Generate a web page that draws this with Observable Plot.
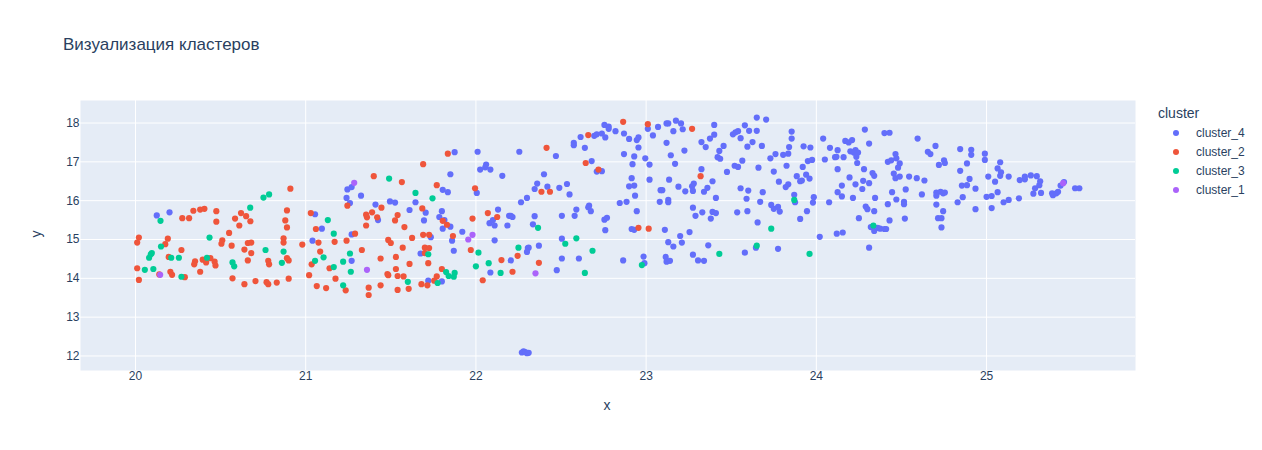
<!DOCTYPE html>
<html><head><meta charset="utf-8">
<script src="https://cdn.jsdelivr.net/npm/d3@7"></script>
<script src="https://cdn.jsdelivr.net/npm/@observablehq/plot@0.6"></script>
<style>
html,body{margin:0;padding:0;background:#fff}
#wrap{position:relative;width:1262px;height:450px;font-family:"Liberation Sans",Arial,sans-serif;color:#2a3f5f}
#title{position:absolute;left:63px;top:35px;font-size:17px;line-height:20px;white-space:nowrap}
#legend{position:absolute;left:1158px;top:104px}
#legend .h{font-size:14px;line-height:18px;height:19px}
#legend .i{position:relative;height:19px;line-height:21px;font-size:12px;padding-left:38px}
#legend .d{position:absolute;left:15px;top:6.5px;width:6px;height:6px;border-radius:50%}
</style></head><body>
<div id="wrap"><div id="title"></div><div id="chart"></div><div id="legend"></div></div>
<script>
const chartTitle = "Визуализация кластеров";
const legendTitle = "cluster";
const clusterNames = ["cluster_4","cluster_2","cluster_3","cluster_1"];
const clusterColors = ["#636EFA","#EF553B","#00CC96","#AB63FA"];
const xTicks = [20,21,22,23,24,25];
const yTicks = [12,13,14,15,16,17,18];

const cluster4 = [[20.125,15.62],[20.2,15.7],[21.055,15.65],[21.095,15.28],[21.04,14.97],[21.27,14.45],[21.27,15.13],[21.245,16.29],[21.27,16.35],[21.24,16.07],[21.26,15.94],[21.325,16.13],[21.41,15.9],[21.425,15.5],[21.495,15.98],[21.525,15.95],[21.645,15.96],[21.61,15.76],[21.705,15.69],[21.695,15.49],[21.8,15.73],[21.785,15.58],[21.815,15.5],[21.805,15.28],[21.85,15.33],[21.85,16.68],[21.875,17.25],[22.01,17.26],[21.805,16.28],[21.835,16.22],[22.005,16.2],[22.025,16.8],[22.06,16.93],[22.055,16.86],[22.085,16.8],[21.92,15.2],[22.08,15.42],[22.1,15.5],[22.11,15.36],[21.86,14.97],[21.735,15.06],[22.11,14.98],[21.87,14.71],[21.675,14.64],[21.72,13.94],[21.8,13.92],[22.085,14.15],
[22.255,17.26],[22.155,16.64],[22.13,15.77],[22.185,15.36],[22.195,15.61],[22.205,15.61],[22.215,15.58],[22.345,15.6],[22.335,15.39],[22.265,15.96],[22.3,16.07],[22.345,16.3],[22.36,16.44],[22.4,16.68],[22.42,16.36],[22.49,16.33],[22.535,16.43],[22.55,16.16],[22.47,17.15],[22.575,17.49],[22.575,17.43],[22.64,17.36],[22.615,17.64],[22.68,17.02],[22.71,16.75],[22.74,16.76],[22.695,17.67],[22.71,17.71],[22.74,17.73],[22.76,17.63],[22.755,17.95],[22.78,17.91],[22.78,17.85],[22.82,17.79],[22.87,17.73],[22.9,17.59],[22.945,17.56],[22.955,17.63],[23.01,17.85],[23.04,17.68],[23.07,17.9],[22.955,17.37],[22.87,17.2],[22.93,17.14],[22.995,17.09],[22.92,16.94],[23.02,16.93],[22.915,16.58],[22.9,16.37],[22.93,16.39],[23.02,16.54],[22.935,16.13],[22.845,15.94],[22.885,15.97],[22.945,15.73],[23.085,16.27],[23.08,15.97],[22.665,15.87],[22.66,15.83],[22.675,15.73],[22.59,15.77],[22.58,15.61],[22.505,15.61],[22.755,15.51],[22.77,15.56],[22.76,15.24],[22.915,15.27],[22.93,15.25],[22.505,15.02],[22.37,14.84],[22.31,14.79],[22.305,14.78],[22.3,14.68],[22.205,14.46],[22.475,14.21],[22.505,14.51],[22.605,14.51],[22.865,14.46],[22.985,14.56],[22.99,14.39],
[23.12,17.99],[23.13,17.99],[23.175,18.06],[23.205,17.99],[23.16,17.79],[23.215,17.84],[23.4,17.95],[23.325,17.51],[23.35,17.38],[23.375,17.6],[23.4,17.7],[23.455,17.41],[23.43,17.28],[23.42,17.12],[23.435,17.08],[23.12,17.49],[23.145,17.17],[23.225,17.29],[23.17,16.95],[23.325,16.81],[23.135,16.54],[23.095,16.27],[23.19,16.36],[23.23,16.24],[23.27,16.37],[23.28,16.44],[23.275,16.25],[23.34,16.23],[23.36,16.33],[23.39,16.5],[23.41,16.07],[23.13,16.02],[23.13,15.96],[23.275,15.82],[23.29,15.61],[23.33,15.7],[23.39,15.71],[23.41,15.68],[23.38,15.54],[23.535,15.7],[23.595,15.73],[23.655,15.44],[23.11,15.25],[23.255,15.19],[23.2,15.09],[23.13,14.93],[23.16,14.82],[23.21,14.92],[23.365,14.85],[23.275,14.61],[23.115,14.55],[23.12,14.43],[23.14,14.45],[23.305,14.46],[23.34,14.45],[23.58,14.66],[23.645,14.79],[23.775,14.76],[24.02,15.07],[23.52,16.9],[23.54,16.87],[23.475,16.74],[23.565,17.03],[23.595,17.39],[23.625,17.51],[23.68,17.41],[23.555,17.61],[23.51,17.71],[23.525,17.76],[23.54,17.79],[23.58,17.94],[23.605,17.8],[23.65,17.8],[23.65,18.14],[23.705,18.09],[23.66,16.85],[23.75,16.75],[23.555,16.32],[23.6,16.26],[23.685,16.22],[23.59,16.05],[23.67,15.97],[23.735,15.89],[23.75,15.79],[23.775,15.84],[23.785,15.72],[23.73,17.09],[23.76,17.2],[23.805,17.18],[23.835,17.21],[23.84,17.38],[23.855,17.6],[23.855,17.78],[23.925,17.4],[23.965,17.37],[23.825,16.9],[23.78,16.49],[23.835,16.42],[23.82,16.35],[23.885,16.63],[23.92,16.87],[23.95,17.02],[23.975,17.05],[23.905,16.5],[23.915,16.52],[23.94,16.67],[23.96,16.57],[23.87,16.15],[23.875,15.96],[23.985,16.09],[23.98,15.95],[23.945,15.73],[23.905,15.53],
[24.04,17.6],[24.08,17.36],[24.125,17.3],[24.11,17.12],[24.118,17.13],[24.16,17.12],[24.05,17.06],[24.17,17.54],[24.19,17.5],[24.21,17.56],[24.285,17.83],[24.31,17.47],[24.4,17.74],[24.43,17.75],[24.2,17.27],[24.23,17.3],[24.245,17.24],[24.22,17.24],[24.235,17.13],[24.24,16.97],[24.125,16.81],[24.28,16.81],[24.33,16.71],[24.34,16.64],[24.195,16.6],[24.275,16.51],[24.31,16.45],[24.23,16.42],[24.15,16.39],[24.27,16.3],[24.125,16.22],[24.15,16.11],[24.215,16.07],[24.345,16.07],[24.075,15.96],[24.29,15.85],[24.3,15.78],[24.34,15.73],[24.25,15.55],[24.43,15.49],[24.52,15.54],[24.42,15.91],[24.47,16.03],[24.515,15.97],[24.515,15.91],[24.445,16.22],[24.525,16.29],[24.62,16.16],[24.465,17.2],[24.47,17.09],[24.44,17.04],[24.42,17.0],[24.49,16.96],[24.48,16.85],[24.455,16.7],[24.465,16.58],[24.49,16.62],[24.545,16.62],[24.59,16.58],[24.635,16.52],[24.595,17.6],[24.655,17.26],[24.67,17.2],[24.7,17.41],[24.72,16.92],[24.75,17.04],[24.755,16.97],[24.705,16.21],[24.73,16.23],[24.705,16.13],[24.745,16.19],[24.755,16.21],[24.705,15.9],[24.745,15.73],[24.715,15.55],[24.735,15.55],[24.735,15.31],[24.845,17.33],[24.91,17.31],[24.91,17.18],[24.99,17.21],[24.99,17.05],[24.885,16.96],[24.845,16.77],[24.9,16.56],[24.855,16.39],[24.885,16.4],[24.935,16.31],[24.86,16.09],[24.83,15.96],[24.935,15.78],[25.03,15.81],[25.0,16.1],[25.03,16.12],[25.065,16.22],[25.1,15.96],[25.13,16.02],[25.19,16.06],[25.275,16.18],[25.32,16.2],[25.385,16.19],[25.39,16.14],[25.41,16.19],[25.42,16.23],[25.435,16.39],[25.455,16.48],[25.52,16.32],[25.545,16.32],[25.285,16.32],[25.31,16.4],[25.315,16.5],[25.295,16.63],[25.26,16.65],[25.225,16.62],[25.225,16.55],[25.195,16.53],[25.13,16.62],[25.08,16.64],[25.085,16.73],[25.065,16.83],[25.08,16.99],[25.01,16.62],[25.05,16.49],[24.32,15.32],[24.335,15.33],[24.34,15.22],[24.36,15.3],[24.375,15.28],[24.4,15.27],[24.41,15.27],[24.12,15.15],[24.155,15.18],[24.31,14.79],
[22.27,12.09],[22.28,12.12],[22.29,12.1],[22.3,12.07],[22.31,12.08]];

const cluster2 = [[20.01,14.92],[20.02,15.05],[20.01,14.26],[20.02,13.96],[20.14,14.1],[20.19,15.02],[20.175,14.88],[20.27,14.73],[20.195,14.55],[20.205,14.17],[20.215,14.09],[20.29,14.03],[20.275,15.55],[20.315,15.55],[20.34,15.74],[20.38,15.77],[20.405,15.79],[20.475,15.73],[20.475,15.46],[20.585,15.54],[20.62,15.68],[20.65,15.6],[20.675,15.47],[20.61,15.36],[20.55,15.17],[20.51,14.98],[20.505,14.89],[20.565,14.84],[20.66,14.91],[20.68,14.92],[20.64,14.74],[20.68,14.65],[20.66,14.46],[20.78,14.45],[20.785,14.36],[20.57,14.0],[20.64,13.85],[20.705,13.93],[20.77,13.9],[20.78,13.85],[20.83,13.89],[20.9,13.99],[20.89,14.52],[20.9,14.46],[20.87,15.03],[20.87,14.92],[20.88,15.49],[20.89,15.31],[20.89,15.75],[20.91,16.31],[20.35,14.44],[20.345,14.36],[20.395,14.48],[20.415,14.41],[20.44,14.52],[20.465,14.43],[20.47,14.33],[20.38,14.17],
[20.98,14.87],[21.03,15.68],[21.06,15.27],[21.075,14.92],[21.085,14.69],[21.035,14.36],[21.02,14.08],[21.065,13.8],[21.12,13.75],[21.14,14.26],[21.17,14.94],[21.175,13.99],[21.235,13.69],[21.24,14.97],[21.29,15.15],[21.245,15.87],[21.33,14.73],[21.355,15.36],[21.355,15.64],[21.36,15.57],[21.39,15.7],[21.42,15.57],[21.445,15.82],[21.4,16.63],[21.565,16.48],[21.54,15.63],[21.525,15.49],[21.58,15.32],[21.625,15.04],[21.485,14.99],[21.5,14.91],[21.57,14.79],[21.44,14.51],[21.53,14.55],[21.61,14.37],[21.53,14.24],[21.48,14.11],[21.485,14.08],[21.54,14.06],[21.575,14.05],[21.37,13.76],[21.44,13.82],[21.37,13.57],[21.54,13.7],[21.605,13.73],[21.68,13.85],[21.715,13.82],[21.755,13.94],[21.77,14.05],[21.8,14.24],[21.72,14.39],[21.7,14.79],[21.725,14.78],[21.7,14.65],[21.69,15.12],[21.725,15.12],[21.685,15.8],[21.69,16.94],[21.77,16.4],[21.835,17.21],[21.805,15.48],[21.83,15.38],[21.865,15.09],[21.97,14.73],[21.995,16.32],[21.98,15.54],[22.07,15.68],[22.04,13.95],
[22.125,15.58],[22.15,14.47],[22.245,14.58],[22.215,14.17],[22.37,14.4],[22.385,16.23],[22.435,16.23],[22.415,17.36],[22.645,16.97],[22.66,17.69],[22.72,16.8],[22.865,18.03],[23.01,17.97],[22.955,15.3],[23.015,15.28],[23.27,17.85],[23.32,16.63]];

const cluster3 = [[20.147,15.48],[20.752,16.08],[20.785,16.16],[20.674,15.82],[20.435,15.05],[20.15,14.82],[20.096,14.65],[20.09,14.62],[20.08,14.53],[20.21,14.53],[20.255,14.53],[20.055,14.22],[20.105,14.24],[20.27,14.04],[20.42,14.53],[20.57,14.41],[20.58,14.31],[20.764,14.73],[20.87,14.69],[20.86,14.4],
[21.13,15.5],[21.165,15.15],[21.055,14.45],[21.105,14.54],[21.165,14.29],[21.22,14.43],[21.26,14.64],[21.265,14.17],[21.22,13.82],[21.49,16.57],[21.645,16.2],[21.745,16.06],[21.6,13.91],[21.72,14.62],[21.775,13.88],[21.825,14.16],[21.84,14.06],[21.87,14.04],[21.875,14.14],[22.015,14.66],[22.0,14.31],[22.075,14.39],
[22.145,14.14],[22.25,14.79],[22.365,15.3],[22.525,14.89],[22.59,15.03],[22.685,14.71],[22.64,14.14],[22.975,14.34],[23.43,14.63],[23.65,14.84],[23.735,15.28],[23.87,16.02],[23.96,14.63],[24.335,15.36]];

const cluster1 = [[20.145,14.09],[21.285,16.46],[21.36,14.22],[21.98,15.12],[21.955,15.0],[22.35,14.13],[25.45,16.45]];

const clusterData = [cluster4, cluster2, cluster3, cluster1];

document.getElementById("title").textContent = chartTitle;
const leg = document.getElementById("legend");
leg.innerHTML = `<div class="h">${legendTitle}</div>` + clusterNames.map((n,i)=>
  `<div class="i"><span class="d" style="background:${clusterColors[i]}"></span>${n}</div>`).join("");

const plot = Plot.plot({
  width: 1262, height: 450,
  marginLeft: 80, marginRight: 127, marginTop: 100, marginBottom: 80,
  style: {fontFamily: '"Liberation Sans",Arial,sans-serif', fontSize: "12px", color: "#2a3f5f", background: "#fff"},
  x: {domain: [19.677, 25.875]},
  y: {domain: [11.626, 18.58]},
  marks: [
    Plot.frame({fill: "#E5ECF6", stroke: null}),
    Plot.gridX(xTicks, {stroke: "#fff", strokeOpacity: 1, strokeWidth: 1}),
    Plot.gridY(yTicks, {stroke: "#fff", strokeOpacity: 1, strokeWidth: 1}),
    Plot.axisX({ticks: xTicks, tickSize: 0, tickPadding: 1, label: null, tickFormat: d3.format("d"), fontSize: 12, fill: "#2a3f5f"}),
    Plot.axisY({ticks: yTicks, tickSize: 0, tickPadding: 1, label: null, tickFormat: d3.format("d"), fontSize: 12, fill: "#2a3f5f"}),
    ...clusterData.map((pts,i) => Plot.dot(pts, {x: d=>d[0], y: d=>d[1], r: 3.1, fill: clusterColors[i], stroke: null}))
  ]
});
document.getElementById("chart").appendChild(plot);
const ns = "http://www.w3.org/2000/svg";
const svg = plot.tagName.toLowerCase()==="svg" ? plot : plot.querySelector("svg");
function addLabel(s, x, y, rot){
  const t = document.createElementNS(ns,"text");
  t.textContent = s; t.setAttribute("text-anchor","middle");
  t.setAttribute("font-size","14"); t.setAttribute("fill","#2a3f5f");
  t.setAttribute("transform",`translate(${x},${y})${rot?` rotate(${rot})`:""}`);
  svg.appendChild(t);
}
addLabel("x",607,410,0);
addLabel("y",40.5,234,-90);
</script>
</body></html>
